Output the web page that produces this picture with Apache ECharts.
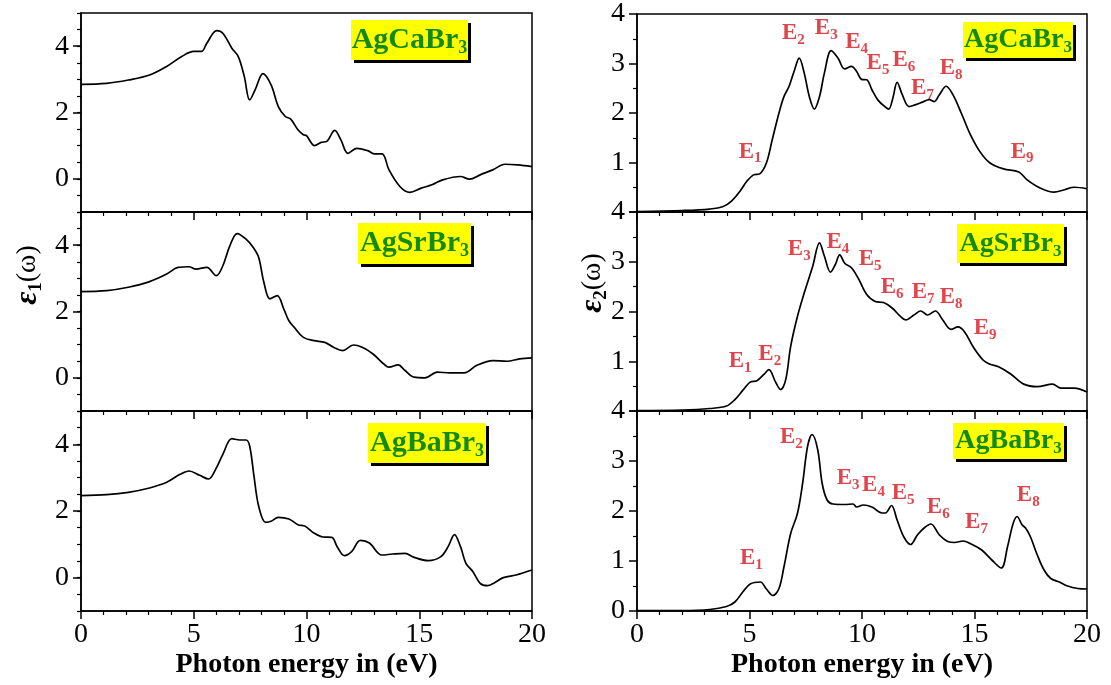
<!DOCTYPE html>
<html style="height: 100%">

<head>
  <meta charset="utf-8">
</head>

<body style="height: 100%; margin: 0; background: #fff">
  <div id="container" style="width: 1111px; height: 685px"></div>
  <script type="text/javascript" src="https://cdn.jsdelivr.net/npm/echarts@6/dist/echarts.min.js"></script>
  <script type="text/javascript">
    // real part, eps1(omega): [energy eV, value]
    var eps1Ca = [[0, 2.85], [1.14, 2.88], [2.1, 2.98], [3.04, 3.13], [3.8, 3.39], [4.47, 3.69], [5.0, 3.84], [5.34, 3.84],
      [5.58, 4.09], [6.02, 4.47], [6.29, 4.39], [6.69, 3.94], [6.97, 3.69], [7.24, 3.09], [7.48, 2.38], [7.72, 2.68],
      [8.07, 3.17], [8.43, 2.83], [8.75, 2.18], [9.06, 1.88], [9.3, 1.8], [9.62, 1.48], [9.86, 1.33], [10.0, 1.3],
      [10.36, 1.0], [10.65, 1.1], [10.9, 1.13], [11.25, 1.46], [11.52, 1.18], [11.84, 0.77], [12.23, 0.92], [12.71, 0.85],
      [13.03, 0.75], [13.35, 0.75], [13.66, 0.27], [14.14, -0.23], [14.58, -0.41], [15.09, -0.28], [15.56, -0.18],
      [16.04, -0.03], [16.83, 0.07], [17.23, -0.01], [17.7, 0.12], [18.26, 0.27], [18.81, 0.44], [19.37, 0.42], [20, 0.37]];
    var eps1Sr = [[0, 2.6], [1.14, 2.63], [2.1, 2.73], [3.04, 2.9], [3.8, 3.13], [4.3, 3.33], [4.79, 3.35], [5.1, 3.28],
      [5.58, 3.33], [6.0, 3.08], [6.29, 3.38], [6.6, 3.98], [6.93, 4.35], [7.32, 4.18], [7.64, 3.93], [7.88, 3.63],
      [8.11, 2.88], [8.38, 2.38], [8.7, 2.48], [8.99, 2.08], [9.22, 1.72], [9.46, 1.52], [9.86, 1.22], [10.33, 1.12],
      [10.81, 1.07], [11.2, 0.92], [11.6, 0.82], [12.08, 0.99], [12.47, 0.92], [12.95, 0.72], [13.34, 0.47], [13.66, 0.32],
      [14.06, 0.39], [14.37, 0.22], [14.77, 0.02], [15.25, 0.0], [15.8, 0.17], [16.35, 0.15], [16.99, 0.15], [17.54, 0.37],
      [18.26, 0.52], [18.89, 0.5], [19.45, 0.57], [20, 0.6]];
    var eps1Ba = [[0, 2.46], [1.14, 2.49], [2.1, 2.56], [3.04, 2.69], [3.8, 2.86], [4.39, 3.1], [4.79, 3.2], [5.26, 3.07],
      [5.66, 2.96], [5.97, 3.25], [6.29, 3.7], [6.69, 4.17], [7.04, 4.13], [7.32, 4.13], [7.48, 3.95], [7.67, 3.05],
      [7.88, 2.14], [8.19, 1.66], [8.43, 1.69], [8.75, 1.81], [9.22, 1.76], [9.62, 1.59], [9.94, 1.54], [10.33, 1.34],
      [10.73, 1.22], [11.12, 1.21], [11.36, 0.93], [11.68, 0.66], [12.0, 0.78], [12.39, 1.12], [12.79, 1.04], [13.34, 0.68],
      [13.82, 0.71], [14.37, 0.73], [14.77, 0.61], [15.4, 0.51], [15.96, 0.63], [16.28, 0.93], [16.56, 1.29], [16.83, 0.93],
      [17.07, 0.43], [17.38, 0.18], [17.7, -0.17], [18.02, -0.24], [18.34, -0.15], [18.73, 0.0], [19.29, 0.08], [20, 0.23]];

    // imaginary part, eps2(omega)
    var eps2Ca = [[0, 0.01], [2.03, 0.03], [3.23, 0.06], [3.83, 0.11], [4.2, 0.22], [4.58, 0.42], [4.88, 0.62], [5.18, 0.75],
      [5.45, 0.77], [5.75, 0.99], [6.01, 1.46], [6.31, 2.0], [6.53, 2.33], [6.76, 2.54], [6.98, 2.84], [7.21, 3.11],
      [7.43, 2.81], [7.66, 2.33], [7.88, 2.08], [8.11, 2.33], [8.33, 2.81], [8.63, 3.26], [8.93, 3.11], [9.23, 2.89],
      [9.53, 2.94], [9.76, 2.84], [9.98, 2.68], [10.21, 2.67], [10.44, 2.47], [10.71, 2.26], [11.04, 2.12], [11.19, 2.08],
      [11.37, 2.3], [11.56, 2.62], [11.79, 2.37], [12.09, 2.13], [12.39, 2.17], [12.69, 2.22], [12.99, 2.27], [13.21, 2.23],
      [13.44, 2.37], [13.74, 2.54], [14.04, 2.37], [14.41, 2.0], [14.79, 1.59], [15.24, 1.22], [15.69, 0.99], [16.29, 0.87],
      [16.97, 0.81], [17.34, 0.65], [17.94, 0.48], [18.54, 0.4], [18.99, 0.45], [19.44, 0.5], [20, 0.47]];
    var eps2Sr = [[0, 0.01], [2.03, 0.02], [3.23, 0.05], [3.98, 0.1], [4.35, 0.23], [4.73, 0.43], [5.03, 0.58], [5.33, 0.61],
      [5.63, 0.73], [5.86, 0.83], [6.16, 0.58], [6.38, 0.43], [6.61, 0.63], [6.83, 1.3], [7.13, 1.9], [7.43, 2.37],
      [7.81, 2.91], [8.11, 3.38], [8.33, 3.11], [8.6, 2.79], [8.81, 2.94], [9.01, 3.14], [9.23, 2.97], [9.53, 2.88],
      [9.83, 2.67], [10.21, 2.34], [10.59, 2.2], [10.96, 2.18], [11.34, 2.07], [11.71, 1.9], [11.94, 1.83], [12.31, 1.93],
      [12.61, 2.01], [12.91, 1.93], [13.26, 2.01], [13.59, 1.83], [13.96, 1.64], [14.26, 1.69], [14.56, 1.59], [14.94, 1.29],
      [15.39, 1.02], [15.69, 0.94], [16.07, 0.89], [16.59, 0.75], [17.19, 0.54], [17.79, 0.49], [18.47, 0.54], [18.84, 0.46],
      [19.44, 0.46], [20, 0.38]];
    var eps2Ba = [[0, 0.01], [2.03, 0.01], [3.23, 0.03], [3.98, 0.09], [4.35, 0.18], [4.7, 0.38], [5.03, 0.54], [5.48, 0.58],
      [5.75, 0.44], [6.04, 0.31], [6.31, 0.45], [6.53, 0.88], [6.83, 1.55], [7.13, 1.95], [7.36, 2.55], [7.58, 3.29],
      [7.78, 3.53], [8.03, 3.23], [8.23, 2.55], [8.45, 2.22], [8.71, 2.14], [9.23, 2.13], [9.6, 2.14], [9.76, 2.08],
      [10.06, 2.12], [10.44, 2.08], [10.89, 1.96], [11.04, 1.96], [11.31, 2.11], [11.56, 1.82], [11.86, 1.48], [12.16, 1.33],
      [12.46, 1.52], [12.76, 1.66], [13.06, 1.74], [13.44, 1.52], [13.81, 1.39], [14.11, 1.37], [14.49, 1.4], [14.94, 1.32],
      [15.32, 1.22], [15.77, 1.02], [16.19, 0.86], [16.47, 1.29], [16.71, 1.74], [16.89, 1.89], [17.12, 1.72], [17.27, 1.66],
      [17.49, 1.48], [17.79, 1.12], [18.09, 0.82], [18.39, 0.65], [18.77, 0.58], [19.14, 0.5], [19.59, 0.45], [20, 0.44]];

    // peak labels E_n: [energy, value, n]
    var peaksCa = [[5.03, 1.22, 1], [6.95, 3.61, 2], [8.41, 3.71, 3], [9.76, 3.44, 4], [10.71, 3.0, 5], [11.86, 3.06, 6],
      [12.69, 2.5, 7], [13.96, 2.9, 8], [17.12, 1.22, 9]];
    var peaksSr = [[4.58, 1.01, 1], [5.9, 1.14, 2], [7.21, 3.26, 3], [8.93, 3.39, 4], [10.36, 3.06, 5], [11.34, 2.49, 6],
      [12.72, 2.39, 7], [13.96, 2.29, 8], [15.47, 1.66, 9]];
    var peaksBa = [[5.08, 1.06, 1], [6.86, 3.47, 2], [9.38, 2.65, 3], [10.51, 2.51, 4], [11.83, 2.36, 5], [13.39, 2.08, 6],
      [15.09, 1.78, 7], [17.39, 2.31, 8]];

    var compounds = ['AgCaBr', 'AgSrBr', 'AgBaBr'];
    var eps1Labels = [0, 2, 4];
    var xTitle = 'Photon energy in (eV)';

    var FONT = 'Liberation Serif, Times New Roman, serif';
    var dom = document.getElementById("container");
    var myChart = echarts.init(dom);

    var tops = [13, 212, 411];
    var heights = [199, 199, 200];
    var grids = [];
    for (var c = 0; c < 2; c++) {
      for (var r = 0; r < 3; r++) {
        grids.push({
          left: c === 0 ? 81 : 637, width: c === 0 ? 451 : 450, top: tops[r], height: heights[r],
          show: true, borderColor: '#000', borderWidth: 1.5
        });
      }
    }

    var xAxes = grids.map(function (g, i) {
      var bottom = (i % 3) === 2;
      return {
        type: 'value', gridIndex: i, min: 0, max: 20, interval: 5,
        axisLine: { onZero: false, lineStyle: { color: '#000', width: 1.5 } },
        axisTick: { length: 8, lineStyle: { color: '#000', width: 1.5 } },
        minorTick: { show: true, splitNumber: 5, length: 4, lineStyle: { color: '#000', width: 1.2 } },
        splitLine: { show: false },
        axisLabel: { show: bottom, color: '#000', fontFamily: FONT, fontSize: 28, margin: 10 },
        name: bottom ? xTitle : '', nameLocation: 'middle', nameGap: 40,
        nameTextStyle: { color: '#000', fontFamily: FONT, fontSize: 28, fontWeight: 'bold' }
      };
    });

    var yAxes = [];
    // left column: eps1, minor ticks every 0.5, labels 0 2 4
    for (var i = 0; i < 3; i++) {
      yAxes.push({
        type: 'value', gridIndex: i, min: -1, max: 5, interval: 0.5,
        axisLine: { lineStyle: { color: '#000', width: 1.5 } },
        axisTick: { length: 4, lineStyle: { color: '#000', width: 1.2 } },
        splitLine: { show: false },
        axisLabel: { customValues: eps1Labels, color: '#000', fontFamily: FONT, fontSize: 28, margin: 12 }
      });
    }
    // right column: eps2
    for (var j = 0; j < 3; j++) {
      yAxes.push({
        type: 'value', gridIndex: 3 + j, min: 0, max: 4, interval: 1,
        axisLine: { lineStyle: { color: '#000', width: 1.5 } },
        axisTick: { length: 8, lineStyle: { color: '#000', width: 1.5 } },
        minorTick: { show: true, splitNumber: 2, length: 4, lineStyle: { color: '#000', width: 1.2 } },
        splitLine: { show: false },
        axisLabel: { showMinLabel: j === 2, color: '#000', fontFamily: FONT, fontSize: 28, margin: 12 }
      });
    }
    // major ticks for left column
    for (var k = 0; k < 3; k++) {
      yAxes.push({
        type: 'value', gridIndex: k, min: -1, max: 5, position: 'left',
        axisLine: { show: false },
        axisTick: { customValues: eps1Labels, length: 8, lineStyle: { color: '#000', width: 1.5 } },
        axisLabel: { show: false },
        splitLine: { show: false }
      });
    }

    var curves = [eps1Ca, eps1Sr, eps1Ba, eps2Ca, eps2Sr, eps2Ba];
    var series = curves.map(function (d, i) {
      return {
        type: 'line', xAxisIndex: i, yAxisIndex: i, data: d, smooth: 0.35,
        showSymbol: false, lineStyle: { color: '#000', width: 1.7 }, silent: true
      };
    });
    [peaksCa, peaksSr, peaksBa].forEach(function (p, i) {
      series.push({
        type: 'scatter', xAxisIndex: 3 + i, yAxisIndex: 3 + i, data: p, symbolSize: 1,
        itemStyle: { color: 'rgba(0,0,0,0)' }, silent: true,
        label: {
          show: true, position: 'inside',
          formatter: function (q) { return '{e|E}{s|' + q.data[2] + '}'; },
          rich: {
            e: { fontFamily: FONT, fontWeight: 'bold', fontSize: 23, color: '#d8161f', lineHeight: 24 },
            s: { fontFamily: FONT, fontWeight: 'bold', fontSize: 15, color: '#d8161f', lineHeight: 14, padding: [14, 0, 0, 0] }
          }
        }
      });
    });

    function tag(x, y, w, h, name, fs) {
      return {
        type: 'group', children: [
          { type: 'rect', shape: { x: x + 3, y: y + 3, width: w, height: h }, style: { fill: '#000' } },
          { type: 'rect', shape: { x: x, y: y, width: w, height: h }, style: { fill: '#ffff00' } },
          {
            type: 'text', x: x + w / 2, y: y + h / 2,
            style: {
              text: '{a|' + name + '}{s|3}', align: 'center', verticalAlign: 'middle',
              rich: {
                a: { fontFamily: FONT, fontWeight: 'bold', fontSize: fs, fill: '#138a13', lineHeight: fs },
                s: { fontFamily: FONT, fontWeight: 'bold', fontSize: Math.round(fs * 0.6), fill: '#138a13', lineHeight: 14, padding: [fs * 0.55, 0, 0, 0] }
              }
            }
          }
        ]
      };
    }

    function epsName(x, y, n) {
      return {
        type: 'text', x: x, y: y, rotation: Math.PI / 2,
        style: {
          text: '{e|ε}{s|' + n + '}{w|(ω)}', align: 'center', verticalAlign: 'middle',
          rich: {
            e: { fontFamily: FONT, fontWeight: 'bold', fontStyle: 'italic', fontSize: 32, fill: '#000', lineHeight: 30 },
            s: { fontFamily: FONT, fontWeight: 'bold', fontSize: 19, fill: '#000', lineHeight: 16, padding: [16, 0, 0, 0] },
            w: { fontFamily: FONT, fontSize: 28, fill: '#000', lineHeight: 30 }
          }
        }
      };
    }

    var option = {
      animation: false,
      backgroundColor: '#fff',
      grid: grids,
      xAxis: xAxes,
      yAxis: yAxes,
      series: series,
      graphic: [
        tag(351, 20, 117, 40, compounds[0], 30),
        tag(358, 223, 113, 41, compounds[1], 30),
        tag(368, 423, 118, 40, compounds[2], 30),
        tag(963, 22, 110, 36, compounds[0], 28),
        tag(957, 224, 107, 39, compounds[1], 28),
        tag(953, 423, 111, 36, compounds[2], 28),
        epsName(28, 275, 1),
        epsName(593, 283, 2)
      ]
    };
    myChart.setOption(option);
  </script>
</body>

</html>
